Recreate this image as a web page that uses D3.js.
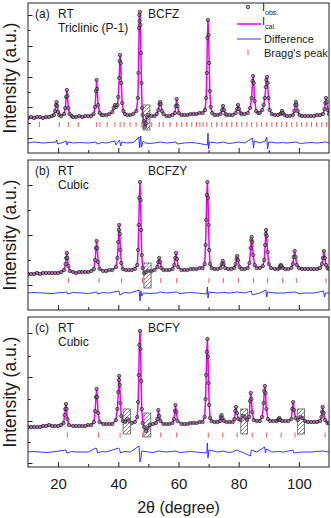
<!DOCTYPE html>
<html lang="en">
<head>
<meta charset="utf-8">
<title>XRD Rietveld refinement - BCFZ / BCFZY / BCFY</title>
<script src="https://d3js.org/d3.v7.min.js"></script>
<style>
  body { margin: 0; background: #fff; }
  svg { display: block; font-family: Arial, "Liberation Sans", sans-serif; }
  .lbl { fill: #1a1a1a; }
</style>
</head>
<body>
<script>
// ---- data (2theta in degree, intensity in a.u.) ----
const obsA = [
  [10,35],[11,36],[12,35],[13,36],[14,36],[15,35],[16,36],[17,36],[18,37],
  [18.6,38],[19.0,42],[19.3,48],[19.5,51],[19.7,47],[20.0,41],[20.4,38],[21,37],
  [22.0,39],[22.4,45],[22.7,56],[22.9,63],[23.1,57],[23.4,45],[23.8,39],[24.5,37],
  [25,36],[26,36],[27,37],[28,36],[29,37],[30,37],[31,37],
  [31.8,39],[32.3,46],[32.6,62],[32.8,73],[33.0,64],[33.3,48],[33.8,40],[34.5,38],
  [35,38],[36,38],[37,39],[38.0,41],[38.5,45],[38.9,48],[39.3,46],[39.7,48],
  [40.0,56],[40.3,75],[40.5,92],[40.6,98],[40.8,90],[41.0,70],[41.3,50],[41.7,42],
  [42.2,39],[43,38],[44,38],[45,39],[46,42],
  [46.5,55],[46.7,80],[46.9,125],[47.0,138],[47.1,132],[47.2,141],[47.35,128],[47.5,100],
  [47.7,70],[47.9,45],[48.1,38],[48.5,32],[48.8,26],[49.1,30],[49.5,36],[50,38],
  [51,37],[52,37],[52.8,39],[53.3,43],[53.7,49],[53.9,51],[54.1,49],[54.5,42],[55,39],
  [56,37],[57,37],[58,38],[58.8,40],[59.1,47],[59.4,54],[59.7,47],[60.1,40],
  [61,38],[62,38],[63,38],[64,39],[65,39],[66,39],[67,40],[68,40],[68.8,43],
  [69.2,55],[69.4,80],[69.6,115],[69.8,133],[70.0,118],[70.2,90],[70.4,62],[70.7,46],
  [71.2,40],[72,38],[73,38],[74,39],[74.5,43],[74.8,47],[75.1,43],[75.6,39],
  [76,38],[77,38],[78,38],[79,40],[79.5,44],[79.8,48],[80.1,44],[80.6,40],
  [81,39],[82,39],[83,40],[83.8,45],[84.3,55],[84.6,72],[84.8,77],[85.0,70],[85.3,52],
  [85.8,42],[86.5,40],[87,40],[87.8,43],[88.3,48],[88.7,55],[89.0,66],[89.2,73],
  [89.4,76],[89.6,70],[89.9,55],[90.3,43],[91,39],[92,38],[93,38],[93.8,39],
  [94.2,40],[94.4,42],[94.7,40],[95.2,38],[96,37],[97,37],[98,38],[98.5,42],
  [98.8,48],[99.0,51],[99.2,48],[99.6,42],[100.2,38],[101,37],[102,37],[103,37],
  [104,37],[105,37],[106,38],[107,38],[108,39],[108.5,44],[108.8,50],[109.0,55],
  [109.2,51],[109.6,43],[110,39]
];
const diffA = [
  [10,10],[12,11],[15,10],[17,10.5],[19.3,11],[19.5,13],[19.8,9],[21,10],[22.7,12],[23.0,8],
  [23.3,11],[25,10],[27,10.5],[30,10],[32.6,11],[33,9],[34.5,10.5],[36,10],[38.8,12],
  [39.2,8],[40.4,13],[40.8,7],[41.2,11],[43,10],[45,10.5],[46.8,16],[47.1,5],[47.4,17],
  [47.7,6],[48.3,12],[49,10],[50.5,9.5],[52,10],[54,11],[56,10],[59.2,11],[59.6,9],
  [62,10],[64,10.5],[66,10],[69.6,8],[69.8,20],[70.0,4],[70.3,11],[73,10],[75,11],
  [76.5,9.5],[78,10],[80,11],[82,10],[84.6,15],[84.9,5],[85.2,12],[87,10],[88.8,12],
  [89.3,16],[89.6,4],[90,11],[93,10],[94.5,10.5],[96,10],[99,11],[100.5,9.5],[102,10],
  [104,10.5],[106,10],[109,11],[110,10]
];
const braggA = [13.8,20.4,23.4,26.7,32.8,33.9,36.3,38.9,40.6,41.9,43.9,45.9,47.8,
  49.4,51.1,53.6,54.9,57.2,59.4,61.1,62.7,64.4,66.0,67.1,68.2,69.4,71.0,72.7,74.4,
  76.0,77.7,79.3,81.0,82.7,84.3,86.0,87.6,89.3,91.0,92.6,94.3,95.9,97.6,99.3,100.9,
  102.6,104.2,105.9,107.6,109.2];
const boxesA = [[48.2,50.5,23,48]];
const yTicksA = [138,123,107,92,76,61,46,30,15];

const obsB = [
  [10,36],[11,36],[12,36],[13,37],[14,36],[15,37],[16,37],[17,37],[18,37],[19,37],
  [20,37],[21,38],[22.0,40],[22.5,46],[22.7,52],[22.9,57],[23.1,52],[23.4,44],[23.9,39],
  [25,38],[26,37],[27,38],[28,38],[29,38],[30,38],[31,39],[31.9,41],
  [32.3,50],[32.6,62],[32.8,69],[33.0,62],[33.3,48],[33.8,41],[35,39],[36,39],[37,40],
  [38,40],[39.2,43],[39.7,52],[40.0,68],[40.2,80],[40.3,85],[40.5,76],[40.7,60],
  [41.0,47],[41.5,41],[42.5,40],[43.5,40],[44.5,40],[45.5,41],[46.3,45],
  [46.6,60],[46.8,85],[47.0,112],[47.2,128],[47.4,110],[47.6,80],[47.8,55],[48.1,42],
  [48.6,37],[49.2,38],[50,39],[51,39],[52,40],[53.0,43],[53.3,48],[53.6,52],[53.9,48],
  [54.3,42],[55,40],[56,40],[57,40],[58,41],[58.6,45],[58.9,52],[59.2,57],[59.5,51],
  [59.9,43],[61,40],[62,40],[63,40],[64,41],[65,41],[66,41],[67,42],[68,42],[68.7,46],
  [69.0,65],[69.2,90],[69.4,115],[69.6,128],[69.8,112],[70.0,85],[70.2,60],[70.5,46],
  [71,42],[72,41],[73,41],[74.0,42],[74.4,46],[74.7,49],[75.0,46],[75.5,42],[76.5,41],
  [77.5,41],[78.5,42],[79.0,46],[79.3,51],[79.5,54],[79.8,50],[80.3,43],[81,41],
  [82,41],[83,42],[83.6,47],[84.0,62],[84.2,70],[84.3,73],[84.5,68],[84.8,55],[85.3,45],
  [86,42],[87,42],[88,44],[88.5,50],[88.8,65],[89.0,76],[89.1,80],[89.3,74],[89.6,58],
  [90.0,46],[90.7,42],[92,41],[93,41],[93.6,42],[93.8,44],[94.0,45],[94.2,44],[94.6,42],
  [95.5,41],[96.5,41],[97.5,42],[98.0,46],[98.3,53],[98.6,59],[98.9,53],[99.3,45],
  [100,42],[101,41],[102,41],[103,41],[104,41],[105,41],[106,41],[107,42],[107.7,46],
  [108.0,52],[108.3,59],[108.6,52],[109.0,45],[109.5,42],[110,41]
];
const diffB = [
  [10,17],[12,17.5],[15,17],[18,16.5],[22.9,18],[23.2,16],[25,17.5],[28,17],[30,16.5],
  [32.8,18],[33.1,16],[35,17.5],[37,17],[40.2,19],[40.5,15],[42,17.5],[44,17],[46.9,20],
  [47.2,9],[47.5,19],[47.8,14],[48.3,17],[50.5,16.5],[53,17],[54,18],[56,17],[59.3,18],
  [60.5,16.5],[62,17],[64,17.5],[66,17],[69.4,16],[69.6,23],[69.8,12],[70.1,18],[73,17],
  [75,17.5],[77,17],[79.5,18],[82,17],[84.2,19],[84.5,15],[87,17],[89.0,20],[89.3,13],
  [89.6,18],[92,17],[95,17],[96.5,17.5],[98.6,18],[100,16.5],[102,17],[105,17],[108.2,19],
  [108.5,13],[108.9,17],[110,17]
];
const braggB = [23.4,33.6,41.1,48.0,54.1,59.4,70.1,74.9,79.9,84.9,89.6,94.6,99.3,109.0];
const boxesB = [[48.5,50.9,22,47]];
const yTicksB = [125,100,75,50,25];

const obsC = [
  [10,40],[11,40],[12,40],[13,40],[14,40],[15,41],[16,41],[17,42],[18,41],[19,41],
  [20,41],[21,42],[21.8,44],[22.2,52],[22.4,58],[22.6,63],[22.8,58],[23.1,48],[23.6,42],
  [25,41],[26,41],[27,41],[28,41],[29,41],[30,42],[31,42],[31.9,45],
  [32.3,56],[32.6,70],[32.8,78],[33.0,70],[33.3,54],[33.8,45],[35,43],[36,43],[37,43],
  [38,43],[39.2,47],[39.7,58],[40.0,75],[40.2,87],[40.3,91],[40.5,82],[40.7,64],
  [41.0,51],[41.5,46],[42.3,45],[43.0,48],[43.6,46],[44.5,44],[45.5,45],[46.3,50],
  [46.6,65],[46.8,92],[47.0,122],[47.2,136],[47.4,118],[47.6,86],[47.8,58],[48.1,44],
  [48.6,40],[49.2,36],[49.8,39],[50.5,42],[51.5,43],[52.5,44],[53.0,48],[53.3,57],
  [53.6,51],[54.0,46],[55,43],[56,43],[57,43],[58,44],[58.5,48],[58.8,56],[59.0,62],
  [59.3,55],[59.7,46],[61,43],[62,43],[63,43],[64,44],[65,44],[66,44],[67,45],[68,45],
  [68.7,50],[69.0,68],[69.2,92],[69.4,115],[69.6,128],[69.8,110],[70.0,84],[70.2,62],
  [70.5,49],[71,46],[72,45],[73,45],[73.8,46],[74.1,50],[74.3,52],[74.6,49],[75.1,46],
  [76,45],[77,45],[78,45],[78.6,48],[78.9,56],[79.1,60],[79.4,54],[79.9,48],[80.6,47],
  [81.5,51],[82.0,50],[82.8,47],[83.5,50],[83.8,66],[84.0,74],[84.2,68],[84.5,55],
  [85.0,47],[86,46],[87,46],[87.8,50],[88.3,64],[88.5,76],[88.7,81],[88.9,74],[89.2,58],
  [89.7,48],[90.5,46],[91.5,46],[92.5,46],[93.1,47],[93.3,48],[93.5,49],[93.8,47],
  [94.5,46],[95.5,46],[96.5,46],[97.5,48],[97.8,58],[98.1,65],[98.4,57],[98.9,49],
  [99.6,47],[100.5,50],[101.2,49],[102,46],[103,45],[104,45],[105,45],[106,45],[107,46],
  [107.5,50],[107.7,55],[107.9,60],[108.2,54],[108.7,47],[109.5,44],[110,44]
];
const diffC = [
  [10,15],[12,15.5],[14,15],[16,14.5],[18,15],[22.6,17],[22.9,14],[24.5,15.5],[26,15],
  [30,15],[32.6,19],[32.9,17],[33.2,14],[34.5,15.5],[36,15],[40.1,19],[40.4,18],[40.7,14],
  [42,15.5],[44,15],[46.9,21],[47.2,5],[47.5,9],[47.8,16],[50,15],[51.5,14.5],[53.4,16],
  [56,15],[59.1,16],[60.5,14.5],[62,15],[64,15.5],[66,15],[69.4,14],[69.6,24],[69.8,9],
  [70.1,17],[73,15],[75,16],[76.5,14.5],[78,15],[79.2,17],[81,15],[83.9,11],[84.2,17],
  [86,15],[88.6,20],[88.9,14],[89.2,18],[91,15],[93,15.5],[95,15],[98.0,17],[98.3,14],
  [101,15],[104,15],[108,16],[110,15]
];
const braggC = [23.1,33.4,40.6,48.1,54.1,59.4,69.9,74.7,79.5,84.5,89.3,94.1,98.7,108.7];
const boxesC = [[41.6,44.0,33,58],[48.5,50.8,30,54],[80.7,82.9,33,58],[99.6,101.9,33,58]];
const yTicksC = [134,111,90,68,46,25,4];

const xMajor = [20, 40, 60, 80, 100];
const xMinor = [30, 50, 70, 90];

const panels = [
  {tag: "(a)", phase: "Triclinic (P-1)", name: "BCFZ", obs: obsA, diff: diffA, bragg: braggA, braggY: [26, 31], boxes: boxesA, yTicks: yTicksA, top: 3},
  {tag: "(b)", phase: "Cubic", name: "BCFZY", obs: obsB, diff: diffB, bragg: braggB, braggY: [27, 32], boxes: boxesB, yTicks: yTicksB, top: 160},
  {tag: "(c)", phase: "Cubic", name: "BCFY", obs: obsC, diff: diffC, bragg: braggC, braggY: [29.5, 34.5], boxes: boxesC, yTicks: yTicksC, top: 317}
];

// ---- drawing ----
const W = 331, H = 518;
const left = 28, right = 329, ph = 150;
const magenta = "#ee00ee", blue = "#2222ff", pink = "#f06a6a";

const svg = d3.select("body").append("svg").attr("width", W).attr("height", H);

const defs = svg.append("defs");
const pat = defs.append("pattern").attr("id", "hatch")
  .attr("patternUnits", "userSpaceOnUse").attr("width", 4).attr("height", 4);
pat.append("path").attr("d", "M-1,1 l2,-2 M0,4 l4,-4 M3,5 l2,-2")
  .attr("stroke", "#555").attr("stroke-width", 0.7);

const x = d3.scaleLinear().domain([10, 110]).range([left, right]);

panels.forEach((p, pi) => {
  const bottom = p.top + ph;
  const y = d3.scaleLinear().domain([0, 150]).range([bottom, p.top]);
  const g = svg.append("g");

  const clipId = "clip" + pi;
  defs.append("clipPath").attr("id", clipId).append("rect")
    .attr("x", left).attr("y", p.top).attr("width", right - left).attr("height", ph);
  const plot = g.append("g").attr("clip-path", `url(#${clipId})`);

  // bragg positions
  plot.selectAll("line.bragg").data(p.bragg).join("line")
    .attr("class", "bragg")
    .attr("x1", d => x(d)).attr("x2", d => x(d))
    .attr("y1", y(p.braggY[0])).attr("y2", y(p.braggY[1]))
    .attr("stroke", pink).attr("stroke-width", 1.1);

  // difference curve
  plot.append("path").datum(p.diff)
    .attr("fill", "none").attr("stroke", blue).attr("stroke-width", 0.9)
    .attr("d", d3.line().x(d => x(d[0])).y(d => y(d[1])));

  // calculated profile (under the observed symbols)
  plot.append("path").datum(p.obs)
    .attr("fill", "none").attr("stroke", magenta).attr("stroke-width", 1.5)
    .attr("stroke-linejoin", "round")
    .attr("d", d3.line().x(d => x(d[0])).y(d => y(d[1])));

  // observed points
  plot.selectAll("circle").data(p.obs).join("circle")
    .attr("cx", d => x(d[0])).attr("cy", d => y(d[1])).attr("r", 1.7)
    .attr("fill", "#8a8a8a").attr("fill-opacity", 0.6)
    .attr("stroke", "#1a1a1a").attr("stroke-width", 0.7);

  // hatched regions
  plot.selectAll("rect.box").data(p.boxes).join("rect")
    .attr("class", "box")
    .attr("x", d => x(d[0])).attr("width", d => x(d[1]) - x(d[0]))
    .attr("y", d => y(d[3])).attr("height", d => y(d[2]) - y(d[3]))
    .attr("fill", "url(#hatch)").attr("stroke", "#555").attr("stroke-width", 0.8);

  // axes (ticks inward)
  const ax = g.append("g").attr("transform", `translate(0,${bottom})`)
    .call(d3.axisBottom(x).tickValues(xMajor).tickSizeInner(-5).tickSizeOuter(0)
      .tickPadding(11).tickFormat(pi === 2 ? d3.format("d") : () => ""));
  const axm = g.append("g").attr("transform", `translate(0,${bottom})`)
    .call(d3.axisBottom(x).tickValues(xMinor).tickSizeInner(-3).tickSizeOuter(0).tickFormat(() => ""));
  const ay = g.append("g").attr("transform", `translate(${left},0)`)
    .call(d3.axisLeft(y).tickValues(p.yTicks).tickSizeInner(-4).tickSizeOuter(0).tickFormat(() => ""));
  ay.selectAll(".tick line").attr("x2", (d, i) => i % 2 ? 2.5 : 4.5);
  [ax, axm, ay].forEach(a => {
    a.select(".domain").remove();
    a.selectAll(".tick line").attr("stroke", "#222");
    a.selectAll("text").attr("font-size", 15).attr("fill", "#1a1a1a")
      .attr("font-family", "Arial, 'Liberation Sans', sans-serif");
  });

  // frame
  g.append("rect").attr("x", left).attr("y", p.top)
    .attr("width", right - left).attr("height", ph)
    .attr("fill", "none").attr("stroke", "#222").attr("stroke-width", 1);

  // y title
  g.append("text").attr("class", "lbl")
    .attr("transform", `translate(16,${p.top + ph / 2}) rotate(-90)`)
    .attr("text-anchor", "middle").attr("font-size", 17.5)
    .text("Intensity (a.u.)");

  // annotations
  const t0 = p.top + 15;
  g.append("text").attr("class", "lbl").attr("x", 35).attr("y", t0).attr("font-size", 12).text(p.tag);
  g.append("text").attr("class", "lbl").attr("x", 58).attr("y", t0).attr("font-size", 12).text("RT");
  g.append("text").attr("class", "lbl").attr("x", 58).attr("y", t0 + 13.5).attr("font-size", 12).text(p.phase);
  g.append("text").attr("class", "lbl").attr("x", 148).attr("y", t0).attr("font-size", 12).text(p.name);
});

// legend (panel a)
const lg = svg.append("g");
lg.append("circle").attr("cx", 248).attr("cy", 7).attr("r", 1.7)
  .attr("fill", "#8a8a8a").attr("fill-opacity", 0.6).attr("stroke", "#1a1a1a").attr("stroke-width", 0.7);
const t1 = lg.append("text").attr("class", "lbl").attr("x", 262).attr("y", 11).attr("font-size", 11);
t1.append("tspan").text("I");
t1.append("tspan").attr("dy", 4).attr("font-size", 7).text("obs.");
lg.append("line").attr("x1", 237).attr("x2", 261).attr("y1", 24).attr("y2", 24)
  .attr("stroke", magenta).attr("stroke-width", 1.5);
const t2 = lg.append("text").attr("class", "lbl").attr("x", 262).attr("y", 25).attr("font-size", 11);
t2.append("tspan").text("I");
t2.append("tspan").attr("dy", 4).attr("font-size", 7).text("cal.");
lg.append("line").attr("x1", 237).attr("x2", 261).attr("y1", 39).attr("y2", 39)
  .attr("stroke", blue).attr("stroke-width", 0.9);
lg.append("text").attr("class", "lbl").attr("x", 264).attr("y", 43).attr("font-size", 11).text("Difference");
lg.append("line").attr("x1", 248).attr("x2", 248).attr("y1", 50).attr("y2", 55)
  .attr("stroke", pink).attr("stroke-width", 1.1);
lg.append("text").attr("class", "lbl").attr("x", 264).attr("y", 57).attr("font-size", 11).text("Bragg's peak");

// x title
svg.append("text").attr("class", "lbl").attr("x", (left + right) / 2).attr("y", 513)
  .attr("text-anchor", "middle").attr("font-size", 16).text("2θ (degree)");
</script>
</body>
</html>
